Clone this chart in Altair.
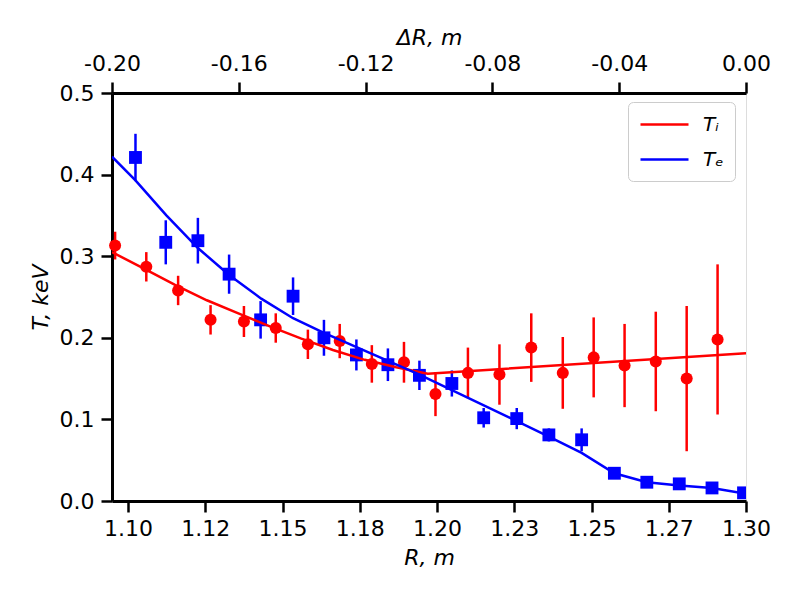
import altair as alt
import pandas as pd

# ---- data ----
ti_r = [1.0958, 1.1059, 1.1162, 1.1267, 1.1375, 1.1478, 1.1582, 1.1685, 1.1789, 1.1893,
        1.1995, 1.2100, 1.2202, 1.2305, 1.2407, 1.2507, 1.2607, 1.2708, 1.2808, 1.2908]
ti_t = [0.313, 0.287, 0.258, 0.222, 0.220, 0.212, 0.192, 0.196, 0.168, 0.170,
        0.131, 0.157, 0.155, 0.188, 0.157, 0.176, 0.166, 0.171, 0.150, 0.198]
ti_err = [0.017, 0.018, 0.018, 0.018, 0.019, 0.018, 0.018, 0.021, 0.023, 0.025,
          0.027, 0.031, 0.037, 0.042, 0.044, 0.049, 0.051, 0.061, 0.089, 0.092]

te_r = [1.1024, 1.1122, 1.1226, 1.1327, 1.1429, 1.1534, 1.1634, 1.1739, 1.1841, 1.1943,
        1.2048, 1.2151, 1.2258, 1.2362, 1.2468, 1.2574, 1.2679, 1.2784, 1.2890, 1.2992]
te_t = [0.421, 0.317, 0.319, 0.278, 0.222, 0.251, 0.200, 0.179, 0.167, 0.154,
        0.144, 0.102, 0.101, 0.081, 0.075, 0.034, 0.023, 0.021, 0.016, 0.010]
te_err = [0.029, 0.027, 0.028, 0.024, 0.023, 0.023, 0.022, 0.019, 0.020, 0.018,
          0.016, 0.012, 0.013, 0.008, 0.014, 0.004, 0.003, 0.003, 0.003, 0.003]

ti_fit_r = [1.0948, 1.1050, 1.1152, 1.1255, 1.1357, 1.1459, 1.1561, 1.1663, 1.1766,
            1.1868, 1.1970, 1.3000]
ti_fit_t = [0.305, 0.285, 0.265, 0.246, 0.230, 0.214, 0.199, 0.185, 0.173,
            0.164, 0.156, 0.181]

te_fit_r = [1.0948, 1.1024, 1.1124, 1.1226, 1.1327, 1.1431, 1.1534, 1.1634, 1.1943,
            1.2362, 1.2468, 1.2574, 1.2679, 1.2784, 1.2890, 1.3000]
te_fit_t = [0.422, 0.393, 0.350, 0.310, 0.277, 0.248, 0.224, 0.206, 0.155,
            0.079, 0.059, 0.034, 0.023, 0.019, 0.016, 0.009]

series_names = ["T\u1d62", "T\u2091"]   # T_i, T_e
series_colors = ["#ff0000", "#0000ff"]

r_ticks = [1.100, 1.125, 1.150, 1.175, 1.200, 1.225, 1.250, 1.275, 1.300]
r_labels = ["1.10", "1.12", "1.15", "1.18", "1.20", "1.23", "1.25", "1.27", "1.30"]
dr_ticks = [-0.20, -0.16, -0.12, -0.08, -0.04, 0.00]
dr_labels = ["-0.20", "-0.16", "-0.12", "-0.08", "-0.04", "0.00"]
t_ticks = [0.0, 0.1, 0.2, 0.3, 0.4, 0.5]

r_domain = [1.0948, 1.30]
dr_domain = [-0.20, 0.00]
t_domain = [0.0, 0.5]

FONT = "DejaVu Sans"
FS = 22


def label_expr(vals, labs):
    expr = "''"
    for v, l in reversed(list(zip(vals, labs))):
        expr = f"abs(datum.value - ({v})) < 1e-6 ? '{l}' : ({expr})"
    return expr


# ---- tables ----
ti_df = pd.DataFrame({"r": ti_r, "t": ti_t, "err": ti_err})
ti_df["lo"] = ti_df["t"] - ti_df["err"]
ti_df["hi"] = ti_df["t"] + ti_df["err"]
te_df = pd.DataFrame({"r": te_r, "t": te_t, "err": te_err})
te_df["lo"] = te_df["t"] - te_df["err"]
te_df["hi"] = te_df["t"] + te_df["err"]

fit_df = pd.concat([
    pd.DataFrame({"r": ti_fit_r, "t": ti_fit_t, "series": series_names[0], "o": range(len(ti_fit_r))}),
    pd.DataFrame({"r": te_fit_r, "t": te_fit_t, "series": series_names[1], "o": range(len(te_fit_r))}),
])

common_axis = dict(
    domainColor="black", domainWidth=3, tickColor="black", tickWidth=2.5, tickSize=11,
    labelFont=FONT, labelFontSize=FS, labelColor="black", labelFlush=False,
    labelOverlap=False, titleFont=FONT, titleFontSize=FS, titleFontStyle="italic",
    titleFontWeight="normal", titleColor="black", grid=False,
)

x_enc = alt.X("r:Q", scale=alt.Scale(domain=r_domain, nice=False, zero=False),
              axis=alt.Axis(title="R, m", values=r_ticks,
                            labelExpr=label_expr(r_ticks, r_labels),
                            labelPadding=6, titlePadding=8, **common_axis))
y_axis = alt.Axis(title="T, keV", values=t_ticks, format=".1f", labelPadding=7,
                  titlePadding=7, **common_axis)
y_scale = alt.Scale(domain=t_domain, nice=False, zero=False)

ti_err_layer = alt.Chart(ti_df).mark_rule(color=series_colors[0], strokeWidth=2.5).encode(
    x=x_enc, y=alt.Y("lo:Q", scale=y_scale, axis=y_axis), y2="hi:Q")
ti_pts = alt.Chart(ti_df).mark_point(shape="circle", filled=True, opacity=1,
                                     color=series_colors[0], size=145).encode(
    x=x_enc, y=alt.Y("t:Q", scale=y_scale, axis=y_axis))
te_err_layer = alt.Chart(te_df).mark_rule(color=series_colors[1], strokeWidth=2.5).encode(
    x=x_enc, y=alt.Y("lo:Q", scale=y_scale, axis=y_axis), y2="hi:Q")
te_pts = alt.Chart(te_df).mark_point(shape="square", filled=True, opacity=1,
                                     color=series_colors[1], size=165, clip=True).encode(
    x=x_enc, y=alt.Y("t:Q", scale=y_scale, axis=y_axis))

fit_lines = alt.Chart(fit_df).mark_line(strokeWidth=2.5, clip=True).encode(
    x=x_enc, y=alt.Y("t:Q", scale=y_scale, axis=y_axis),
    order="o:Q",
    color=alt.Color("series:N",
                    scale=alt.Scale(domain=series_names, range=series_colors),
                    legend=alt.Legend(title=None, orient="none", legendX=516, legendY=9,
                                      symbolType="M-1,0H3.8", symbolSize=400,
                                      symbolStrokeWidth=2.5, labelFont=FONT,
                                      labelFontSize=20, labelFontStyle="italic",
                                      labelColor="black", labelOffset=41, padding=11,
                                      rowPadding=13, strokeColor="#cccccc",
                                      fillColor="white", cornerRadius=5)),
)

top_axis = alt.Chart(pd.DataFrame({"dR": dr_ticks})).mark_point(opacity=0).encode(
    x=alt.X("dR:Q", scale=alt.Scale(domain=dr_domain, nice=False, zero=False),
            axis=alt.Axis(orient="top", title="\u0394R, m", values=dr_ticks,
                          labelExpr=label_expr(dr_ticks, dr_labels),
                          labelPadding=7, titlePadding=3, **common_axis)),
    y=alt.value(0),
)

main = alt.layer(ti_err_layer, te_err_layer, ti_pts, te_pts, fit_lines)
chart = alt.layer(main, top_axis).resolve_scale(x="independent").properties(
    width=634, height=408,
    autosize=alt.AutoSizeParams(type="none"),
    padding={"left": 104, "top": 85, "right": 46, "bottom": 90},
).configure_view(stroke="black", strokeWidth=3).configure(background="white")

chart.save("out.html", embed_options={"renderer": "svg", "actions": False})
